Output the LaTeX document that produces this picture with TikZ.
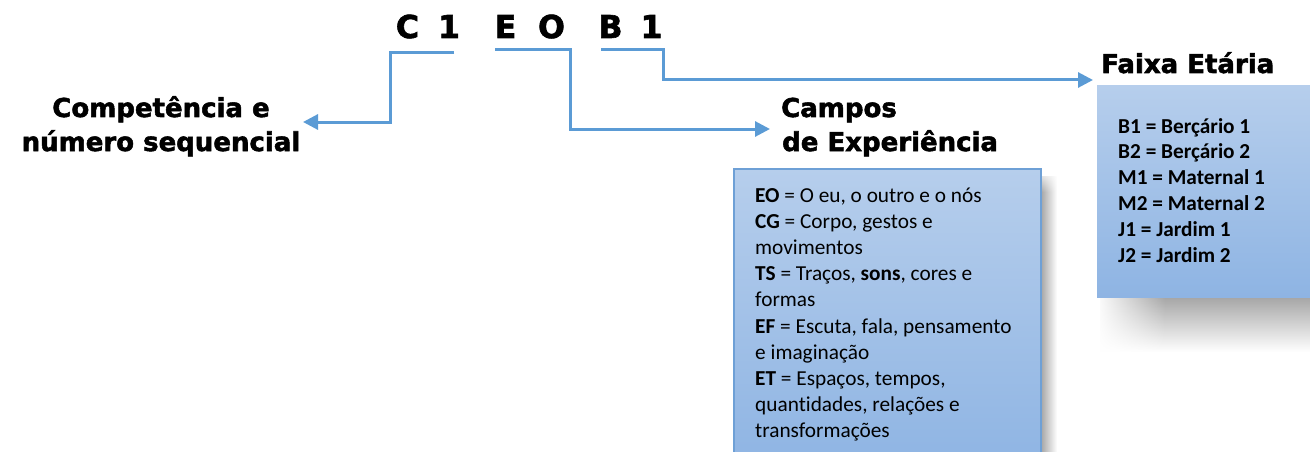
\documentclass[tikz,border=0pt]{standalone}
\usepackage{fontspec}
\setmainfont{Carlito}[Ligatures=NoCommon]
\newfontfamily\heavyfont{DejaVu Sans Bold}[FakeBold=2]
\usetikzlibrary{arrows.meta,fadings}
\definecolor{linkblue}{RGB}{91,155,213}
\definecolor{boxtop}{RGB}{182,206,236}
\definecolor{boxbot}{RGB}{142,180,227}
\definecolor{boxline}{RGB}{110,160,214}
\tikzset{
  conn/.style={draw=linkblue, line width=3pt, -{Triangle[length=15pt,width=15pt]}},
  codeletter/.style={font=\heavyfont\fontsize{31.5}{36}\selectfont, inner sep=0pt, anchor=base},
  headline/.style={font=\heavyfont\fontsize{26}{30}\selectfont, inner sep=0pt},
  infobox/.style={top color=boxtop, bottom color=boxbot},
  bodytext/.style={font=\fontsize{21.3}{26.2}\selectfont, inner sep=0pt, anchor=base west, align=left},
}
\begin{document}
\begin{tikzpicture}[x=1pt,y=-1pt]
\useasboundingbox (0,0) rectangle (1310,452);
\clip (0,0) rectangle (1310,452);
% code letters
\node[codeletter] (lc)  at (407.5,38) {C};
\node[codeletter] (l1)  at (449,38) {1};
\node[codeletter] (le)  at (505.5,38) {E};
\node[codeletter] (lo)  at (551.5,38) {O};
\node[codeletter] (lb)  at (610.5,38) {B};
\node[codeletter] (l1b) at (651.5,38) {1};
% headings
\node[headline, anchor=base] (comp1) at (161,117) {Competência e};
\node[headline, anchor=base] (comp2) at (161,151) {número sequencial};
\node[headline, anchor=base west] (camp1) at (781,117) {Campos};
\node[headline, anchor=base west] (camp2) at (782,151) {de Experiência};
\node[headline, anchor=base west] (faixa) at (1101,73) {Faixa Etária};
% connectors
\coordinate (s1) at (454,53);
\coordinate (t1) at (303,122);
\coordinate (s2) at (495,50);
\coordinate (t2) at (770,129);
\coordinate (s3) at (601,50);
\coordinate (t3) at (1093,80);
\draw[conn] (s1) -- (390,53) -- (390,122) -- (t1);
\draw[conn] (s2) -- (570,50) -- (570,129) -- (t2);
\draw[conn] (s3) -- (663,50) -- (663,80) -- (t3);
% shadows
\fill[left color=black!35, right color=white] (1041,176) rectangle (1057,460);
\fill[white, path fading=south] (1040,168) rectangle (1060,192);
\fill[top color=black!35, bottom color=white] (1100,297) rectangle (1315,352);
\fill[white, path fading=east] (1096,296) rectangle (1165,355);
% boxes
\path[infobox, draw=boxline, line width=1.2pt] (734,169) rectangle (1041,470);
\path[infobox] (1097,86) rectangle (1315,297);
% box texts (base anchor = last line)
\node[bodytext] (ctext) at (755,437.8) {\textbf{EO} = O eu, o outro e o nós\\ \textbf{CG} = Corpo, gestos e\\ movimentos\\ \textbf{TS} = Traços, \textbf{sons}, cores e\\ formas\\ \textbf{EF} = Escuta, fala, pensamento\\ e imaginação\\ \textbf{ET} = Espaços, tempos,\\ quantidades, relações e\\ transformações};
\node[bodytext, font=\fontsize{21.3}{25.8}\selectfont\bfseries] (ftext) at (1118,262) {B1 = Berçário 1\\ B2 = Berçário 2\\ M1 = Maternal 1\\ M2 = Maternal 2\\ J1 = Jardim 1\\ J2 = Jardim 2};
\end{tikzpicture}
\end{document}
